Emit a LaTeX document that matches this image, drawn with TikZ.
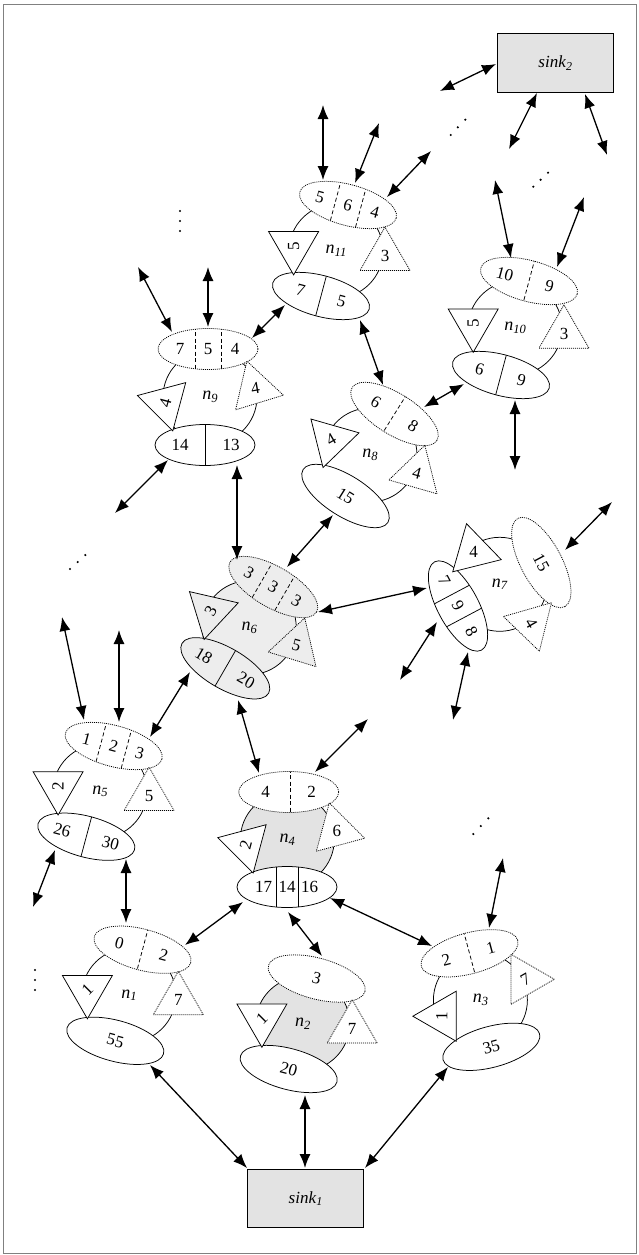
\documentclass[tikz,border=0pt]{standalone}
\usepackage{fontspec}
\setmainfont{Liberation Serif}
\usetikzlibrary{arrows.meta}

\newcommand\nlab[1]{\textit{n}\raisebox{-0.35ex}{\fontsize{12.5}{12.5}\selectfont\textit{#1}}}
\newcommand\slab[1]{\textit{sink}\raisebox{-0.35ex}{\fontsize{12}{12}\selectfont\textit{#1}}}

\colorlet{pale}{gray!14}
\colorlet{stip}{gray!22}
\definecolor{framegray}{RGB}{128,128,128}

\tikzset{
  shp/.style={line width=0.75pt},
  bodyc/.style={shp,draw,fill=white},
  lbl/.style={inner sep=0pt,font=\fontsize{18}{19}\selectfont},
  ell/.style={shp,draw,fill=white},
  topE/.style={ell,dash pattern=on 1pt off 1pt},
  botE/.style={ell},
  tdiv/.style={shp,dash pattern=on 4pt off 2.5pt},
  bdiv/.style={shp},
  num/.style={inner sep=0pt,font=\fontsize{17}{18}\selectfont},
  soltri/.style={shp,fill=white},
  dottri/.style={shp,fill=white,dash pattern=on 1pt off 1pt},
  link/.style={line width=1.3pt,{Latex[length=14pt,width=11pt]}-{Latex[length=14pt,width=11pt]}},
  sink/.style={shp,draw,fill=stip,minimum width=116pt,minimum height=58.5pt,inner sep=0pt,font=\fontsize{17}{18}\selectfont},
}

% node body: name, x, y, fill, label
\newcommand\nbody[5]{%
  \draw[bodyc,fill=#4] (#2,#3) circle [radius=47];
  \node[lbl] (#1) at (#2,#3) {#5};}

% split ellipse: name, x, y, angle, ellipse style, divider style, divider offsets, cells (offset/text)
\newcommand\cellring[8]{%
  \begin{scope}[shift={(#2,#3)},rotate=#4,transform shape]
    \coordinate (#1) at (0,0);
    \draw[#5] (0,0) ellipse [x radius=50,y radius=20.5];
    \begin{scope}
      \clip (0,0) ellipse [x radius=50,y radius=20.5];
      \foreach \dv in {#7} {\draw[#6] (\dv,-30) -- (\dv,30);}
    \end{scope}
    \foreach \pp/\tx [count=\kk] in {#8} {\node[num] (#1-\kk) at (\pp,0) {\tx};}
  \end{scope}}

% triangles: name, x, y, shape angle, style, text angle, text
\newcommand\tridown[7]{%
  \begin{scope}[shift={(#2,#3)},rotate=#4]
    \draw[#5] (-25,-14.43) -- (25,-14.43) -- (0,28.87) -- cycle;
  \end{scope}
  \node[num,rotate=#6] (#1) at (#2,#3) {#7};}
\newcommand\triup[7]{%
  \begin{scope}[shift={(#2,#3)},rotate=#4]
    \draw[#5] (-25,14.43) -- (25,14.43) -- (0,-28.87) -- cycle;
  \end{scope}
  \node[num,rotate=#6] (#1) at (#2,#3) {#7};}

\begin{document}
\begin{tikzpicture}[x=1pt,y=-1pt]
\useasboundingbox (0,0) rectangle (638,1255);
\draw[framegray,line width=1.6pt] (3.5,4.5) rectangle (636.5,1253.5);

% sinks
\node[sink] (s1) at (305.5,1198.5) {\slab{1}};
\node[sink] (s2) at (555.3,62.8) {\slab{2}};

% n11
\nbody{n11}{336}{251}{white}{\nlab{11}}
\cellring{n11t}{348}{205}{-15}{topE}{tdiv}{-13,13}{-29/5,0/6,28/4}
\cellring{n11b}{321}{296}{-15}{botE}{bdiv}{0}{-21/7,21/5}
\tridown{n11l}{293.6}{246}{0}{soltri}{90}{5}
\triup{n11r}{385}{256}{0}{dottri}{0}{3}

% n10
\nbody{n10}{515}{328}{white}{\nlab{10}}
\cellring{n10t}{529}{281}{-15}{topE}{tdiv}{0}{-25/10,21/9}
\cellring{n10b}{501}{375}{-15}{botE}{bdiv}{0}{-22/6,21/9}
\tridown{n10l}{473.2}{323.4}{0}{soltri}{90}{5}
\triup{n10r}{564}{333.7}{0}{dottri}{0}{3}

% n9
\nbody{n9}{210}{397}{white}{\nlab{9}}
\cellring{n9t}{208}{349}{0}{topE}{tdiv}{-13,13}{-28/7,0/5,27/4}
\cellring{n9b}{205}{445}{0}{botE}{bdiv}{0}{-25/14,26/13}
\tridown{n9l}{165.3}{403}{15}{soltri}{75}{4}
\triup{n9r}{255.3}{388.7}{17}{dottri}{10}{4}

% n8
\nbody{n8}{370}{455}{white}{\nlab{8}}
\cellring{n8t}{394.5}{414}{-32}{topE}{tdiv}{0}{-22/6,22/8}
\cellring{n8b}{345.5}{496}{-32}{botE}{bdiv}{99}{0/15}
\tridown{n8l}{331}{439.8}{-16}{soltri}{30}{4}
\triup{n8r}{416.9}{473}{-16}{dottri}{-15}{4}

% n6
\nbody{n6}{249.3}{627.7}{pale}{\nlab{6}}
\cellring{n6t}{273.3}{587}{-30}{topE,fill=pale}{tdiv}{-13,13}{-28/3,0/3,27/3}
\cellring{n6b}{225.3}{668.3}{-30}{botE,fill=pale}{bdiv}{0}{-25/18,24/20}
\tridown{n6l}{210.6}{611.3}{-13}{soltri,fill=pale}{60}{3}
\triup{n6r}{296.3}{645.5}{-17}{dottri,fill=pale}{-15}{5}

% n7
\nbody{n7}{499.7}{584.3}{white}{\nlab{7}}
\cellring{n7b}{458}{606}{-62}{botE}{bdiv}{-13,13}{-29/7,0/9,29/8}
\cellring{n7t}{541.3}{562.5}{-62}{topE}{tdiv}{99}{0/15}
\tridown{n7l}{473.5}{551.7}{-46}{soltri}{0}{4}
\triup{n7r}{531.4}{623.5}{-44}{dottri}{-60}{4}

% n5
\nbody{n5}{100}{791.3}{white}{\nlab{5}}
\cellring{n5t}{113.7}{746}{-15}{topE}{tdiv}{-13,13}{-28/1,0/2,27/3}
\cellring{n5b}{86.3}{836.7}{-15}{botE}{bdiv}{0}{-25/26,25/30}
\tridown{n5l}{58.1}{786.1}{0}{soltri}{90}{2}
\triup{n5r}{149.1}{796.1}{0}{dottri}{0}{5}

% n4
\nbody{n4}{287.3}{839.5}{stip}{\nlab{4}}
\cellring{n4t}{288.7}{792}{0}{topE}{tdiv}{2}{-23/4,23/2}
\cellring{n4b}{287}{887}{0}{botE}{bdiv}{-10.3,11.3}{-23.5/17,0/14,22.5/16}
\tridown{n4l}{245.7}{845.1}{15}{soltri}{75}{2}
\triup{n4r}{336.8}{830.8}{15}{dottri}{0}{6}

% n1
\nbody{n1}{128.9}{995.3}{white}{\nlab{1}}
\cellring{n1t}{142.5}{949.7}{-15}{topE}{tdiv}{0}{-24/0,22/2}
\cellring{n1b}{115.3}{1040.8}{-15}{botE}{bdiv}{99}{0/55}
\tridown{n1l}{87.4}{989.9}{0}{soltri}{45}{1}
\triup{n1r}{178.3}{1000.2}{0}{dottri}{0}{7}

% n2
\nbody{n2}{302.7}{1023.8}{stip}{\nlab{2}}
\cellring{n2t}{316.7}{978.5}{-15}{topE}{tdiv}{99}{0/3}
\cellring{n2b}{288.7}{1069}{-15}{botE}{bdiv}{99}{0/20}
\tridown{n2l}{261.9}{1018.4}{0}{soltri}{45}{1}
\triup{n2r}{352.2}{1028.6}{0}{dottri}{0}{7}

% n3
\nbody{n3}{480.4}{1000}{white}{\nlab{3}}
\cellring{n3t}{469.5}{953.3}{15}{topE}{tdiv}{0}{-24/2,22/1}
\cellring{n3b}{491.3}{1046.8}{15}{botE}{bdiv}{99}{0/35}
\tridown{n3l}{441.7}{1016.2}{30}{soltri}{90}{1}
\triup{n3r}{525.5}{979.3}{30}{dottri}{30}{7}

% attachment points on the shapes
\coordinate (s2w) at (496,64);   \coordinate (s2b1) at (537,93);  \coordinate (s2b2) at (585,94);
\coordinate (n11t-a) at (323,180); \coordinate (n11t-b) at (355,183); \coordinate (n11t-c) at (387,197);
\coordinate (n10t-a) at (511,258); \coordinate (n10t-b) at (557,267);
\coordinate (n10b-a) at (515,400); \coordinate (n10b-b) at (464,384);
\coordinate (n8t-a) at (424,407);  \coordinate (n8t-b) at (383,385);
\coordinate (n11b-a) at (360,320); \coordinate (n11b-b) at (285,305);
\coordinate (n9t-a) at (252,338);  \coordinate (n9t-b) at (172,332);  \coordinate (n9t-c) at (208,327);
\coordinate (n9b-a) at (168,460);  \coordinate (n9b-b) at (237,465);
\coordinate (n6t-a) at (237,560);  \coordinate (n6t-b) at (287,567);  \coordinate (n6t-c) at (318,612);
\coordinate (n8b-a) at (333,515);
\coordinate (n7b-a) at (427,588);  \coordinate (n7b-b) at (437,622);  \coordinate (n7b-c) at (468,652);
\coordinate (n7t-a) at (565,550);
\coordinate (n6b-a) at (190,672);  \coordinate (n6b-b) at (238,700);
\coordinate (n5t-a) at (150,737);  \coordinate (n5t-b) at (84,720);   \coordinate (n5t-c) at (119,722);
\coordinate (n4t-a) at (259,773);  \coordinate (n4t-b) at (315,772);
\coordinate (n5b-a) at (55,850);   \coordinate (n5b-b) at (126,859);
\coordinate (n1t-a) at (126,923);  \coordinate (n1t-b) at (185,945);
\coordinate (n4b-a) at (243,902);  \coordinate (n4b-b) at (288,912);  \coordinate (n4b-c) at (330,898);
\coordinate (n2t-a) at (322,956);
\coordinate (n3t-a) at (432,946);  \coordinate (n3t-b) at (489,928);
\coordinate (n1b-a) at (150,1065); \coordinate (n2b-a) at (305,1095); \coordinate (n3b-a) at (448,1067);
\coordinate (s1a) at (247,1168);   \coordinate (s1b) at (305,1168);  \coordinate (s1c) at (365,1168);

% open ends
\coordinate (f1) at (440,91);   \coordinate (f2) at (509,149);  \coordinate (f3) at (607,155);
\coordinate (f4) at (323,105);  \coordinate (f5) at (379,123);  \coordinate (f6) at (431,151);
\coordinate (f7) at (495,180);  \coordinate (f8) at (584,197);  \coordinate (f9) at (515,470);
\coordinate (f10) at (138,267); \coordinate (f11) at (208,267); \coordinate (f12) at (115,513);
\coordinate (f13) at (612,502); \coordinate (f14) at (400,680); \coordinate (f15) at (453,720);
\coordinate (f16) at (62,617);  \coordinate (f17) at (119,630); \coordinate (f18) at (368,719);
\coordinate (f19) at (33,907);  \coordinate (f20) at (503,858);

% links
\draw[link] (f1) -- (s2w);
\draw[link] (s2b1) -- (f2);
\draw[link] (s2b2) -- (f3);
\draw[link] (f4) -- (n11t-a);
\draw[link] (f5) -- (n11t-b);
\draw[link] (f6) -- (n11t-c);
\draw[link] (f7) -- (n10t-a);
\draw[link] (f8) -- (n10t-b);
\draw[link] (n10b-a) -- (f9);
\draw[link] (n10b-b) -- (n8t-a);
\draw[link] (n11b-a) -- (n8t-b);
\draw[link] (n11b-b) -- (n9t-a);
\draw[link] (f10) -- (n9t-b);
\draw[link] (f11) -- (n9t-c);
\draw[link] (n9b-a) -- (f12);
\draw[link] (n9b-b) -- (n6t-a);
\draw[link] (n8b-a) -- (n6t-b);
\draw[link] (n6t-c) -- (n7b-a);
\draw[link] (n7t-a) -- (f13);
\draw[link] (n7b-b) -- (f14);
\draw[link] (n7b-c) -- (f15);
\draw[link] (n6b-a) -- (n5t-a);
\draw[link] (n6b-b) -- (n4t-a);
\draw[link] (n4t-b) -- (f18);
\draw[link] (f16) -- (n5t-b);
\draw[link] (f17) -- (n5t-c);
\draw[link] (n5b-a) -- (f19);
\draw[link] (n5b-b) -- (n1t-a);
\draw[link] (n4b-a) -- (n1t-b);
\draw[link] (n4b-b) -- (n2t-a);
\draw[link] (n4b-c) -- (n3t-a);
\draw[link] (n3t-b) -- (f20);
\draw[link] (n1b-a) -- (s1a);
\draw[link] (n2b-a) -- (s1b);
\draw[link] (n3b-a) -- (s1c);

% continuation dots
\foreach \x/\y in {180/211,180/221,180/231, 35/970,35/980,35/990,
  450.7/135,457.8/127.3,465.3/119.7, 533.3/186.7,540.6/179.7,548/172.7,
  70/569,77.7/562,85.3/555, 473.3/834,480.8/826,488.3/818.3}
  \fill (\x,\y) circle [radius=1.2];
\end{tikzpicture}
\end{document}
